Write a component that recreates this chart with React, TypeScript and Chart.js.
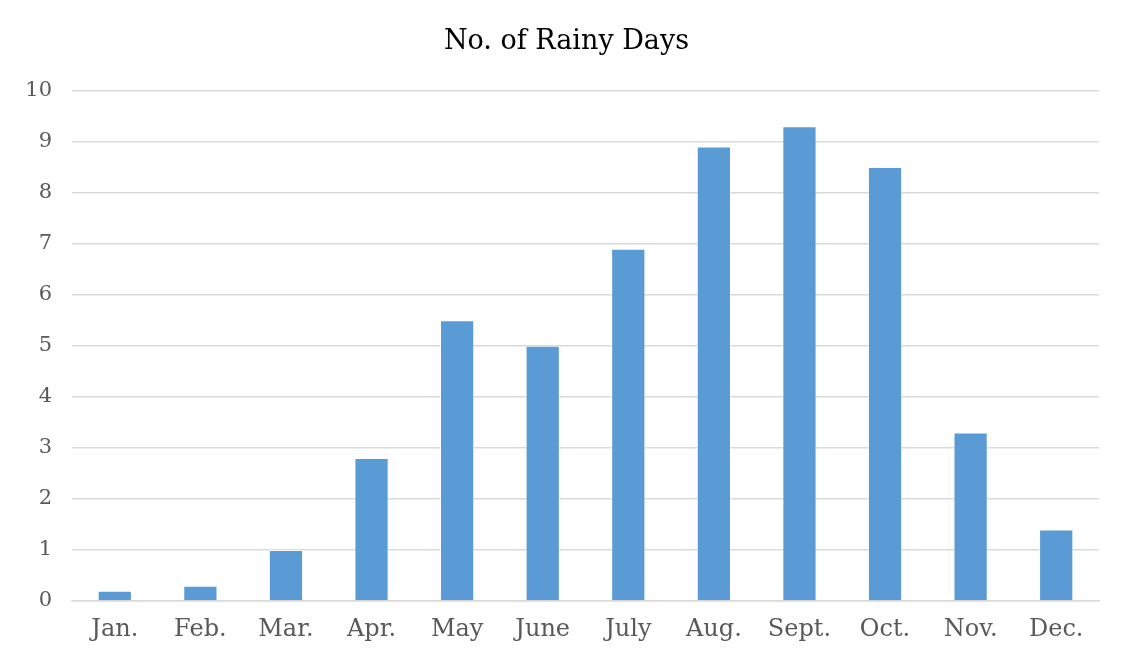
import React, { useEffect, useRef } from "react";
import { Chart, registerables } from "chart.js";

Chart.register(...registerables);

const categories = ["Jan.", "Feb.", "Mar.", "Apr.", "May", "June", "July", "Aug.", "Sept.", "Oct.", "Nov.", "Dec."];
const rainyDays = [0.2, 0.3, 1.0, 2.8, 5.5, 5.0, 6.9, 8.9, 9.3, 8.5, 3.3, 1.4];
const chartTitle = "No. of Rainy Days";
const yMin = 0;
const yMax = 10;
const yStep = 1;

const FONT = "'DejaVu Serif', 'Liberation Serif', serif";

const titleOffset = {
  id: "titleOffset",
  afterLayout(chart: any) {
    if (chart.titleBlock) {
      chart.titleBlock.left = 34;
    }
  },
};

export default function App() {
  const ref = useRef<HTMLCanvasElement | null>(null);

  useEffect(() => {
    if (!ref.current) return;
    const chart = new Chart(ref.current, {
      type: "bar",
      data: {
        labels: categories,
        datasets: [
          {
            label: chartTitle,
            data: rainyDays,
            backgroundColor: "#5B9BD5",
            borderColor: "rgba(255,255,255,0.6)",
            borderWidth: 1,
            barPercentage: 0.4,
            categoryPercentage: 1,
          },
        ],
      },
      options: {
        responsive: false,
        animation: false,
        layout: { padding: { left: 0, right: 26, top: 0, bottom: 0 } },
        plugins: {
          legend: { display: false },
          tooltip: { enabled: false },
          title: {
            display: true,
            text: chartTitle,
            color: "#000000",
            font: { family: FONT, size: 27, weight: "normal" },
            padding: { top: 26, bottom: 32 },
          },
        },
        scales: {
          x: {
            grid: { display: false, drawTicks: false },
            border: { display: true, color: "#d9d9d9", width: 1.5 },
            ticks: {
              color: "#595959",
              font: { family: FONT, size: 24 },
              padding: 14,
              maxRotation: 0,
              autoSkip: false,
            },
            afterFit: (scale: any) => {
              scale.height = 655 - 601;
            },
          },
          y: {
            min: yMin,
            max: yMax,
            grid: { color: "#d9d9d9", lineWidth: 1.5, drawTicks: false },
            border: { display: false },
            ticks: {
              stepSize: yStep,
              color: "#595959",
              font: { family: FONT, size: 21 },
              padding: 20,
            },
            afterFit: (scale: any) => {
              scale.width = 72;
            },
          },
        },
      } as any,
      plugins: [titleOffset],
    });
    return () => chart.destroy();
  }, []);

  return (
    <div style={{ position: "relative", width: 1125, height: 655, margin: -8, overflow: "hidden", background: "#fff" }}>
      <canvas ref={ref} width={1125} height={655} style={{ position: "absolute", left: 0, top: 0 }} />
      <div style={{ position: "absolute", left: 6, top: 4, width: 2, height: 651, background: "#d4d4d4" }} />
      <div style={{ position: "absolute", left: 6, top: 4, width: 1119, height: 2, background: "#d4d4d4" }} />
    </div>
  );
}
